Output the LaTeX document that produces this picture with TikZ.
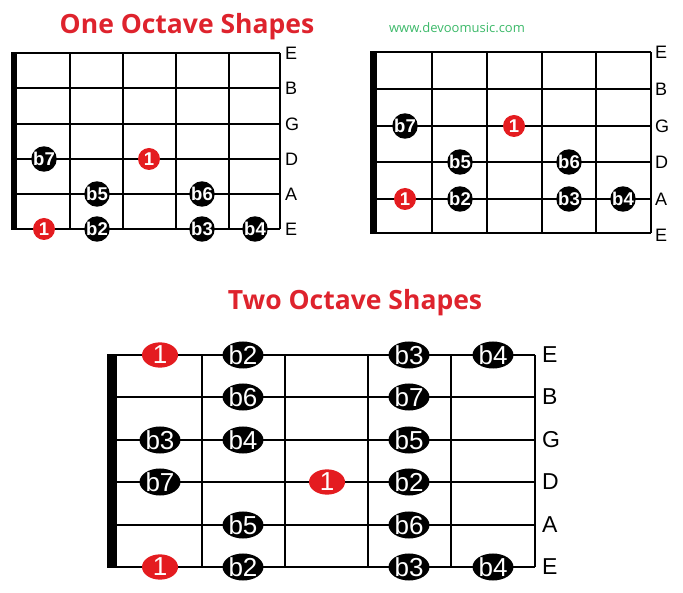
\documentclass[tikz,border=0pt]{standalone}
\usepackage{fontspec}
\setmainfont{Liberation Sans}
\newfontfamily\titlefont{Open Sans}
\usetikzlibrary{shapes.geometric}
\definecolor{titlered}{RGB}{222,35,45}
\definecolor{notered}{RGB}{228,28,32}
\definecolor{webgreen}{RGB}{60,185,105}
\tikzset{
  gridline/.style={line width=1.4pt, black},
  dotblack/.style={circle, fill=black, text=white, minimum size=22pt, inner sep=0pt, font=\bfseries\fontsize{18.5}{18.5}\selectfont},
  dotred/.style={dotblack, fill=notered},
  ellblack/.style={ellipse, fill=black, text=white, minimum width=36pt, minimum height=25pt, inner sep=0pt, font=\fontsize{26}{26}\selectfont},
  ellred/.style={ellblack, fill=notered},
  labsmall/.style={anchor=west, inner sep=0pt, font=\fontsize{18}{18}\selectfont},
  labbig/.style={anchor=west, inner sep=0pt, font=\fontsize{23}{23}\selectfont},
  titletext/.style={text=titlered, font=\titlefont\bfseries\fontsize{26.5}{26.5}\selectfont},
}
\begin{document}
\begin{tikzpicture}[x=1pt,y=-1pt]
\useasboundingbox (0,0) rectangle (683,593);

% ---------- titles ----------
\node[titletext] (t1) at (187,27) {One Octave Shapes};
\node[text=webgreen, font=\titlefont\fontsize{13}{13}\selectfont] (web) at (457,28) {www.devoomusic.com};
\node[titletext] (t2) at (355,303) {Two Octave Shapes};

% ---------- board 1 ----------
\foreach \y in {53,88,124,159,194,229} \draw[gridline] (17,\y) -- (280,\y);
\foreach \x in {70,123,176,229,280} \draw[gridline] (\x,53) -- (\x,229);
\fill (11,52) rectangle (17,230);
\foreach \s/\y [count=\i] in {E/53,B/88,G/124,D/159,A/194,E/229}
  \node[labsmall] (la\i) at (285,\y) {\s};
\node[dotblack] (a1) at (44,159) {b7};
\node[dotred]   (a2) at (149,159) {1};
\node[dotblack] (a3) at (97,194) {b5};
\node[dotblack] (a4) at (202,194) {b6};
\node[dotred]   (a5) at (44,229) {1};
\node[dotblack] (a6) at (97,229) {b2};
\node[dotblack] (a7) at (202,229) {b3};
\node[dotblack] (a8) at (255,229) {b4};

% ---------- board 2 ----------
\foreach \y in {52,89,126,162,199,233} \draw[gridline] (377,\y) -- (651,\y);
\foreach \x in {432,487,542,596,651} \draw[gridline] (\x,52) -- (\x,233);
\fill (370,51) rectangle (377,234);
\foreach \s/\y [count=\i] in {E/52,B/89,G/126,D/162,A/199,E/235}
  \node[labsmall] (lb\i) at (655,\y) {\s};
\node[dotblack] (b1) at (405,126) {b7};
\node[dotred]   (b2) at (514,126) {1};
\node[dotblack] (b3) at (460,162) {b5};
\node[dotblack] (b4) at (569,162) {b6};
\node[dotred]   (b5) at (405,199) {1};
\node[dotblack] (b6) at (460,199) {b2};
\node[dotblack] (b7) at (569,199) {b3};
\node[dotblack] (b8) at (623,199) {b4};

% ---------- board 3 ----------
\foreach \y in {355,397,440,482,525,567} \draw[gridline] (117,\y) -- (535,\y);
\foreach \x in {202,285,368,451,535} \draw[gridline] (\x,355) -- (\x,567);
\fill (107,354) rectangle (117,568);
\foreach \s/\y [count=\i] in {E/355,B/397,G/440,D/482,A/525,E/567}
  \node[labbig] (lc\i) at (542,\y) {\s};
\node[ellred]   (c1)  at (160,355) {1};
\node[ellblack] (c2)  at (243,355) {b2};
\node[ellblack] (c3)  at (409,355) {b3};
\node[ellblack] (c4)  at (493,355) {b4};
\node[ellblack] (c5)  at (243,397) {b6};
\node[ellblack] (c6)  at (409,397) {b7};
\node[ellblack] (c7)  at (160,440) {b3};
\node[ellblack] (c8)  at (243,440) {b4};
\node[ellblack] (c9)  at (409,440) {b5};
\node[ellblack] (c10) at (160,482) {b7};
\node[ellred]   (c11) at (327,482) {1};
\node[ellblack] (c12) at (409,482) {b2};
\node[ellblack] (c13) at (243,525) {b5};
\node[ellblack] (c14) at (409,525) {b6};
\node[ellred]   (c15) at (160,567) {1};
\node[ellblack] (c16) at (243,567) {b2};
\node[ellblack] (c17) at (409,567) {b3};
\node[ellblack] (c18) at (493,567) {b4};
\end{tikzpicture}
\end{document}
